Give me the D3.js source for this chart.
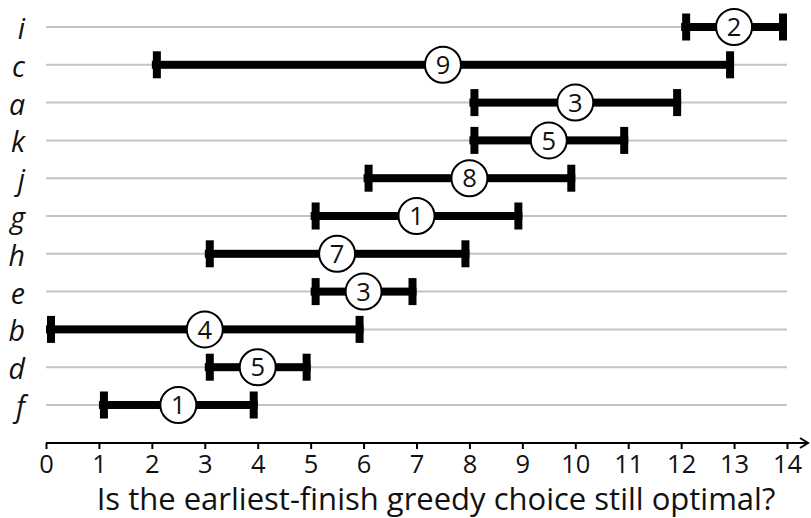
<!DOCTYPE html>
<html><head><meta charset="utf-8">
<script src="https://cdn.jsdelivr.net/npm/d3@7"></script>
<style>
html,body{margin:0;padding:0;background:#fff;}
svg{display:block;font-family:"Open Sans","Noto Sans",sans-serif;}
</style></head>
<body><svg id="c" width="811" height="518"></svg>
<script>
const labels = ["i","c","a","k","j","g","h","e","b","d","f"];
const starts = [12, 2, 8, 8, 6, 5, 3, 5, 0, 3, 1];
const ends   = [14,13,12,11,10, 9, 8, 7, 6, 5, 4];
const weights= [ 2, 9, 3, 5, 8, 1, 7, 3, 4, 5, 1];
const ticks = d3.range(0, 15);
const title = "Is the earliest-finish greedy choice still optimal?";

const data = labels.map((l,i)=>({label:l,s:starts[i],e:ends[i],w:weights[i]}));
const svg = d3.select("#c");
const x = d3.scaleLinear().domain([0,14]).range([46,787]);
const y = d3.scalePoint().domain(labels).range([27,405]);

// gridlines
svg.append("g").selectAll("line").data(labels).join("line")
  .attr("x1",x(0)).attr("x2",x(14))
  .attr("y1",d=>y(d)).attr("y2",d=>y(d))
  .attr("stroke","#c4c4c4").attr("stroke-width",2);

// row labels
svg.append("g").selectAll("text").data(labels).join("text")
  .attr("x",25).attr("y",d=>y(d)).attr("dy","0.42em")
  .attr("text-anchor","end").attr("font-style","italic").attr("font-size",28.5)
  .attr("fill","#111").text(d=>d);

const capW = 8, capH = 27, barH = 8;
const g = svg.append("g").selectAll("g").data(data).join("g");
g.append("rect").attr("x",d=>x(d.s)).attr("width",d=>x(d.e)-x(d.s))
  .attr("y",d=>y(d.label)-barH/2).attr("height",barH).attr("fill","#000");
g.append("rect").attr("x",d=>x(d.s)+1).attr("width",capW)
  .attr("y",d=>y(d.label)-capH/2).attr("height",capH).attr("fill","#000");
g.append("rect").attr("x",d=>x(d.e)-capW).attr("width",capW)
  .attr("y",d=>y(d.label)-capH/2).attr("height",capH).attr("fill","#000");
g.append("circle").attr("cx",d=>x((d.s+d.e)/2)).attr("cy",d=>y(d.label))
  .attr("r",18).attr("fill","#fff").attr("stroke","#000").attr("stroke-width",2);
g.append("text").attr("x",d=>x((d.s+d.e)/2)).attr("y",d=>y(d.label)).attr("dy","0.36em")
  .attr("text-anchor","middle").attr("font-size",25.5).attr("fill","#111").text(d=>d.w);

// axis
const ay = 443;
const axis = d3.axisBottom(x).tickValues(ticks).tickSize(6).tickPadding(6).tickFormat(d3.format("d"));
const ag = svg.append("g").attr("transform",`translate(0,${ay})`).call(axis);
ag.select(".domain").remove();
ag.selectAll(".tick line").attr("stroke","#000").attr("stroke-width",2);
ag.selectAll(".tick text").attr("font-size",25.5).attr("fill","#111").attr("font-family","'Open Sans',sans-serif");
ag.append("line").attr("x1",x(0)).attr("x2",808).attr("y1",0).attr("y2",0)
  .attr("stroke","#000").attr("stroke-width",2);
ag.append("path").attr("d","M800,-5L808,0L800,5").attr("fill","none")
  .attr("stroke","#000").attr("stroke-width",2);

svg.append("text").attr("x",436).attr("y",510).attr("text-anchor","middle")
  .attr("font-size",31).attr("fill","#111").text(title);
</script></body></html>
